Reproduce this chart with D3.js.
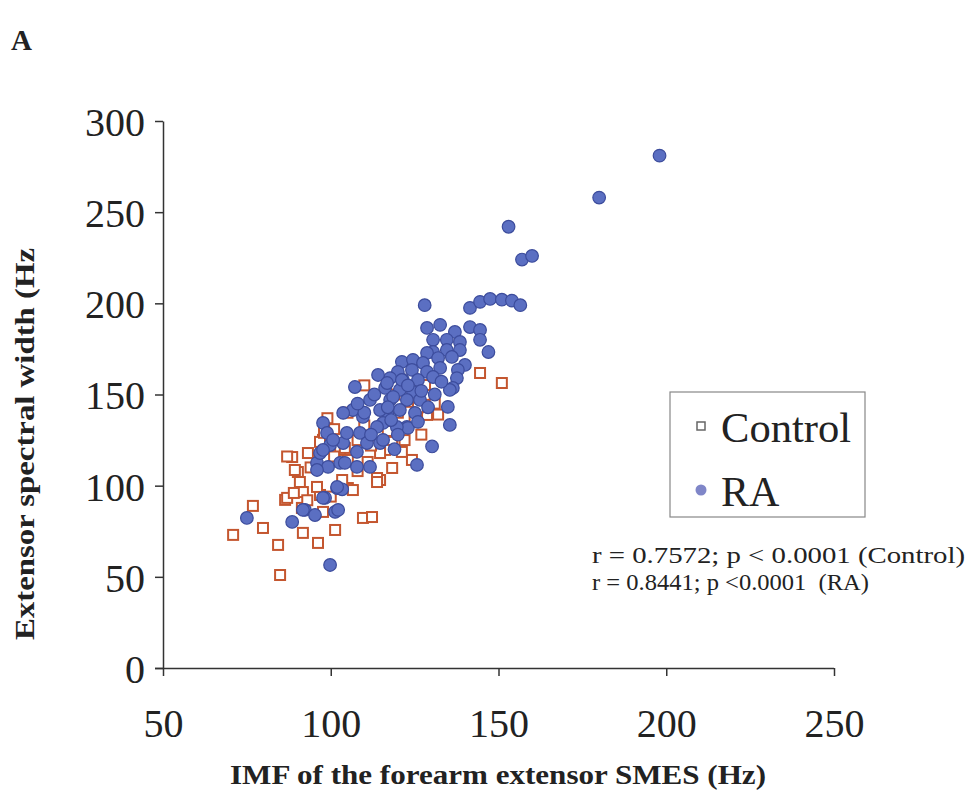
<!DOCTYPE html>
<html><head><meta charset="utf-8">
<script src="https://cdn.jsdelivr.net/npm/d3@7"></script>
<style>body{margin:0;background:#fff}svg{display:block}text{font-family:"Liberation Serif","Times New Roman",serif;fill:#222}</style>
</head><body><svg id="c" width="969" height="793"></svg>
<script>
const xTicks=[50,100,150,200,250];
const yTicks=[0,50,100,150,200,250,300];
const controlX=[144.5,151,128.7,129,128.1,118.3,124.2,118.3,114.7,121.2,116.2,97.7,88.5,93.2,90.2,90.8,91.7,86.4,96.8,91.4,76.8,79.8,70.9,84.3,91.7,96.2,101.3,84.9,109.6,112.3,105.1,113.8,102.8,105.1,97.7,104.2,114.7,113.8,103.4,106.6,95.9,89.3,96.8,87,105,110,108,112,117,122,125,127,101,99,120,126,131,111,108,101,94,100,93,89,87,119,123,132,110,98];
const controlY=[161.8,156.3,138.8,149.8,155.2,124,114.1,109.7,103.1,118.5,119.6,125.1,115.7,117.9,107.5,102,96.5,92.2,94.9,87.8,88.9,76.8,73,67.5,74.1,68.6,75.7,51,82.3,82.8,98.7,104.2,119.6,114.1,85.6,120.7,117.9,102,103.1,97.6,99.3,108.6,124,93.3,140,133,125,122,130,125,135,128,131,137,140,143,145,113,108,116,110,94,92,96,116,150,146,139,155,129];
const raX=[198,180,153,157,160,128,141.5,144.5,147.5,151,154,156.5,128.7,132.6,137,141.5,144.5,144.5,147,130.5,134.6,138.5,130.5,134.6,138.5,128.7,121.2,124.5,127.5,132,136.1,140,120,124.2,128.7,132.6,137.9,117.7,121.5,126,130.5,137.6,136.4,135.5,116.2,120.6,124.5,117.7,122.7,126.6,134.9,120.6,116.8,125.1,135.5,122.7,130.2,115.6,125.7,123,75,88.5,92.3,95.3,98.3,101.3,99.8,101.9,103.4,95.9,99.2,102.8,96.8,99.8,103.7,107.8,111.7,114.7,107.8,107.2,114.1,97.7,98.9,111.7,106.6,103.7,109.6,114.7,118.6,121.2,116.8,100.7,104.8,108.7,113.8,119.7,110.8,115.6,97.7,95.9,104.2,101.9,97.7,91.7,102.2,110,108,113,118,120,112,117,123,127,129,131,133,126,119];
const raY=[281,258,242,224,226,199,197.5,200.8,202.4,202,201.5,199,186.5,188.2,184.3,187,185.4,180,173.3,180,180,178.8,173.3,174.4,174.4,172.8,167.9,169,167.3,170,170.6,166.2,162.4,163.5,162.4,164.6,163.5,159,158,158,159.6,159,153.6,152.5,153.6,152.5,151.4,147,147,147,143.2,141.5,139.9,139.9,133.3,132.2,121.5,134.4,111.4,131.7,82.3,80.1,86.7,83.9,93.3,85.6,56.5,98.7,98,112.5,110.3,112.5,117.9,122.3,123.4,118.5,110.3,123.4,110.3,154.1,160.7,134.4,128.9,147,141.5,139.9,137.7,141.5,148.7,158,156.3,125.1,128.9,128.9,132.2,132.2,123.4,125.1,119.6,108.6,112.5,99.3,93.3,86.7,86.7,140,145,150,136,128,128,143,155,152,143,150,157,135,120];

const svg=d3.select("#c");
const x=d3.scaleLinear().domain([50,250]).range([163,834]);
const y=d3.scaleLinear().domain([0,300]).range([668,121]);

const ya=svg.append("g").attr("transform","translate(163,0)")
  .call(d3.axisLeft(y).tickValues(yTicks).tickSize(8).tickSizeOuter(0).tickPadding(10).tickFormat(d3.format("d")));
const xa=svg.append("g").attr("transform","translate(0,668)")
  .call(d3.axisBottom(x).tickValues(xTicks).tickSize(8).tickSizeOuter(0).tickPadding(32).tickFormat(d3.format("d")));
[ya,xa].forEach(g=>{
  g.selectAll("path,line").attr("stroke","#333").attr("stroke-width",1.5);
  g.selectAll("text").attr("font-family","Liberation Serif, serif").attr("font-size",41).attr("fill","#222")
    .attr("textLength",d=>String(d).length*20).attr("lengthAdjust","spacingAndGlyphs");
});
ya.selectAll("text").attr("dy","0.35em");
xa.selectAll("text").attr("dy","0.7em");
xa.select(".domain").attr("d","M155,0.5H834");

const ctrl=controlX.map((v,i)=>[v,controlY[i]]);
const ra=raX.map((v,i)=>[v,raY[i]]);
const s=10;
svg.append("g").selectAll("rect").data(ctrl).join("rect")
  .attr("x",d=>x(d[0])-s/2).attr("y",d=>y(d[1])-s/2).attr("width",s).attr("height",s)
  .attr("fill","#fff").attr("stroke","#c4562f").attr("stroke-width",2);
svg.append("g").selectAll("circle").data(ra).join("circle")
  .attr("cx",d=>x(d[0])).attr("cy",d=>y(d[1])).attr("r",6.3)
  .attr("fill","#5b6fc2").attr("stroke","#3c4c9c").attr("stroke-width",1.2);

// legend
svg.append("rect").attr("x",670).attr("y",392).attr("width",195).attr("height",125)
  .attr("fill","#fff").attr("stroke","#888").attr("stroke-width",1.2);
svg.append("rect").attr("x",697).attr("y",422).attr("width",8).attr("height",8)
  .attr("fill","#fff").attr("stroke","#666").attr("stroke-width",1.5);
svg.append("text").attr("x",721).attr("y",442).attr("font-size",42).attr("textLength",130).attr("lengthAdjust","spacingAndGlyphs").text("Control");
svg.append("circle").attr("cx",701).attr("cy",490).attr("r",5.5).attr("fill","#7f86c8");
svg.append("text").attr("x",721).attr("y",506).attr("font-size",42).text("RA");

svg.append("text").attr("x",592).attr("y",563).attr("font-size",23).attr("textLength",373).attr("lengthAdjust","spacingAndGlyphs").text("r = 0.7572; p < 0.0001 (Control)");
svg.append("text").attr("x",592).attr("y",590).attr("font-size",23).attr("textLength",277).attr("lengthAdjust","spacingAndGlyphs").attr("xml:space","preserve").style("white-space","pre").text("r = 0.8441; p <0.0001  (RA)");

svg.append("text").attr("x",498).attr("y",784).attr("text-anchor","middle").attr("font-size",28).attr("font-weight","bold").attr("textLength",536).attr("lengthAdjust","spacingAndGlyphs").text("IMF of the forearm extensor SMES (Hz)");
svg.append("text").attr("transform","translate(34,444) rotate(-90)").attr("text-anchor","middle").attr("font-size",28).attr("font-weight","bold").attr("textLength",392).attr("lengthAdjust","spacingAndGlyphs").text("Extensor spectral width (Hz");
svg.append("text").attr("x",11).attr("y",50).attr("font-size",29).attr("font-weight","bold").text("A");
</script></body></html>
